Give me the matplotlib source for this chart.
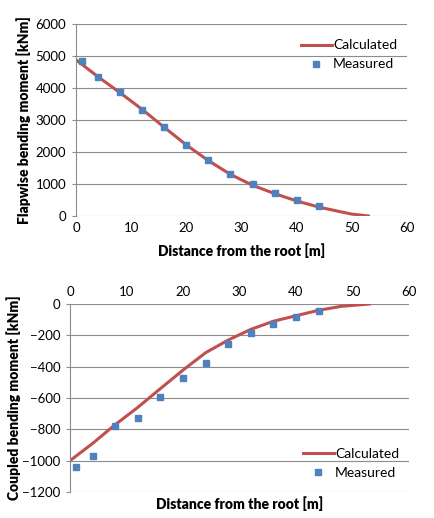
import matplotlib.pyplot as plt

# flapwise moment
flap_calc_x = [0, 4, 8, 12, 16, 20, 24, 28, 32, 36, 40, 44, 48, 50, 53]
flap_calc_y = [4880, 4350, 3850, 3330, 2770, 2220, 1730, 1300, 960, 700, 470, 280, 130, 60, 0]
flap_meas_x = [1, 4, 8, 12, 16, 20, 24, 28, 32, 36, 40, 44]
flap_meas_y = [4830, 4330, 3870, 3300, 2770, 2210, 1750, 1300, 990, 710, 500, 300]

# coupled moment
coup_calc_x = [0, 4, 8, 12, 16, 20, 24, 28, 32, 36, 40, 44, 48, 53]
coup_calc_y = [-1000, -890, -770, -660, -540, -422, -311, -230, -162, -110, -75, -40, -15, 0]
coup_meas_x = [1, 4, 8, 12, 16, 20, 24, 28, 32, 36, 40, 44]
coup_meas_y = [-1040, -970, -780, -730, -595, -475, -375, -255, -185, -130, -85, -45]

plt.rcParams['font.family'] = ['Lato', 'DejaVu Sans']
red = '#C0504D'
blue = '#4F81BD'
grid_c = '#8C8C8C'

fig = plt.figure(figsize=(4.35, 5.18), dpi=100)
W, H = 435, 518

# top chart
ax1 = fig.add_axes([76 / W, 1 - 216 / H, (407 - 76) / W, (216 - 24) / H])
ax1.plot(flap_calc_x, flap_calc_y, color=red, lw=2.2, label='Calculated', zorder=2)
ax1.plot(flap_meas_x, flap_meas_y, 's', color=blue, ms=5, label='Measured', zorder=3)
ax1.set_xlim(0, 60)
ax1.set_ylim(0, 6000)
ax1.set_xticks(range(0, 61, 10))
ax1.set_yticks(range(0, 6001, 1000))
ax1.set_xlabel('Distance from the root [m]', fontsize=10, fontweight='heavy', labelpad=7)
ax1.set_ylabel('Flapwise bending moment [kNm]', fontsize=10, fontweight='heavy', labelpad=3)
ax1.legend(loc='upper right', frameon=False, fontsize=10, handlelength=2.2,
           handletextpad=0.1, borderaxespad=0.3, bbox_to_anchor=(1.0, 0.97))

# bottom chart
ax2 = fig.add_axes([70 / W, 1 - 492 / H, (409 - 70) / W, (492 - 304) / H])
ax2.plot(coup_calc_x, coup_calc_y, color=red, lw=2.2, label='Calculated', zorder=2)
ax2.plot(coup_meas_x, coup_meas_y, 's', color=blue, ms=5, label='Measured', zorder=3)
ax2.set_xlim(0, 60)
ax2.set_ylim(-1200, 0)
ax2.set_xticks(range(0, 61, 10))
ax2.set_yticks(range(-1200, 1, 200))
ax2.xaxis.tick_top()
ax2.set_xlabel('Distance from the root [m]', fontsize=10, fontweight='heavy', labelpad=3)
ax2.set_ylabel('Coupled bending moment [kNm]', fontsize=10, fontweight='heavy', labelpad=1)
ax2.legend(loc='lower right', frameon=False, fontsize=10, handlelength=2.2,
           handletextpad=0.1, borderaxespad=0.3, bbox_to_anchor=(1.0, 0.02))

for ax in (ax1, ax2):
    ax.grid(axis='y', color=grid_c, lw=0.8)
    ax.set_axisbelow(True)
    for s in ('top', 'right', 'bottom'):
        ax.spines[s].set_visible(False)
    ax.spines['left'].set_color(grid_c)
    ax.tick_params(axis='both', labelsize=9.5, length=0, pad=4)
    ax.tick_params(axis='y', length=3, color=grid_c, direction='out')

fig.savefig('out.png', dpi=100)
